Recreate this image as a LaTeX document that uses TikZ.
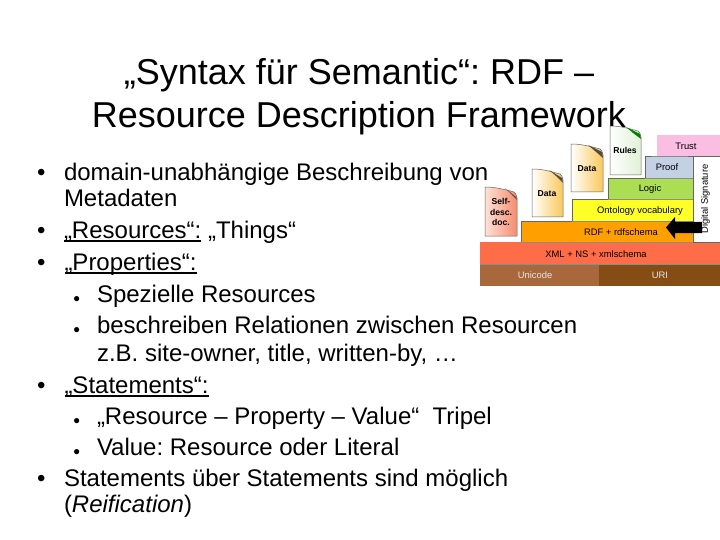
\documentclass[tikz,border=0pt]{standalone}
\usepackage{fontspec}
\setmainfont{Liberation Sans}
\usetikzlibrary{shapes.geometric}
\frenchspacing
\definecolor{cUni}{RGB}{168,104,60}
\definecolor{cUri}{RGB}{133,76,20}
\definecolor{cXml}{RGB}{255,108,72}
\definecolor{cRdf}{RGB}{255,160,0}
\definecolor{cOnt}{RGB}{255,255,40}
\definecolor{cLog}{RGB}{172,222,84}
\definecolor{cPrf}{RGB}{196,208,228}
\definecolor{cTru}{RGB}{250,190,226}
\definecolor{cSalmon}{RGB}{245,140,110}
\definecolor{cPink}{RGB}{255,225,215}
\definecolor{cDoc}{RGB}{250,200,90}
\definecolor{cRul}{RGB}{225,240,215}
\newcommand{\ulx}[1]{\leavevmode\setbox0\hbox{#1}\rlap{\copy0}\rlap{\raisebox{-4pt}{\rule{\wd0}{1.7pt}}}\hskip\wd0\relax}
\tikzset{
  txt/.style={anchor=base west,inner sep=0pt,outer sep=0pt,font=\fontsize{24}{24}\selectfont,text=black},
  ttl/.style={anchor=base,inner sep=0pt,outer sep=0pt,font=\fontsize{36}{36}\selectfont,text=black},
  bul/.style={anchor=base west,inner sep=0pt,outer sep=0pt,font=\fontsize{24}{24}\selectfont},
  sbul/.style={anchor=base west,inner sep=0pt,outer sep=0pt,font=\fontsize{12}{12}\selectfont},
  lay/.style={anchor=center,inner sep=0pt,font=\fontsize{9.4}{10}\selectfont,text=black},
  dlab/.style={anchor=center,inner sep=0pt,align=center,font=\bfseries\fontsize{8.6}{10.5}\selectfont,text=black}
}
\newcommand{\docshape}[6]{% x0 y0 x1 y1 left-colour right-colour
  \shade[left color=#5,right color=#6,draw=black!60,line width=0.5pt]
    (#1,#2) .. controls (#1+10,#2) and (#3-14,#2+2) .. (#3-3,#2+5)
    .. controls (#3-1,#2+7) .. (#3,#2+11) -- (#3,#4) -- (#1,#4) -- cycle;
}
\begin{document}
\begin{tikzpicture}[x=1pt,y=-1pt]
\useasboundingbox (0,0) rectangle (720,540);
\fill[white] (0,0) rectangle (720,540);
% title
\node[ttl] (t1) at (359,85) {„Syntax für Semantic“: RDF –};
\node[ttl] (t2) at (359,128) {Resource Description Framework};
% diagram layers
\fill[cUni] (480,264) rectangle (599,286);
\fill[cUri] (599,264) rectangle (720,286);
\fill[cXml] (480,242) rectangle (720,264);
\fill[cRdf] (521,221) rectangle (693,242);
\fill[cOnt] (572,199) rectangle (693,221);
\fill[cLog] (608,178) rectangle (693,199);
\fill[cPrf] (645,156) rectangle (693,178);
\fill[cTru] (657,135) rectangle (720,156);
\draw[black!60,line width=0.4pt] (521,242) |- (572,221) |- (608,199) |- (645,178) |- (657,156) -- (720,156);
\draw[black!60,line width=0.4pt] (693,156) -- (693,242) -- (720,242);
\draw[black!45,line width=0.4pt] (480,264) -- (720,264) (521,242) -- (693,242) (572,221) -- (693,221) (608,199) -- (693,199) (645,178) -- (693,178);
\node[lay,text=white!90!black] (uni) at (535,275.5) {Unicode};
\node[lay,text=white!90!black] (uri) at (660,275.5) {URI};
\node[lay] (xml) at (596,254) {XML + NS + xmlschema};
\node[lay] (rdf) at (621,232) {RDF + rdfschema};
\node[lay] (ont) at (640,211) {Ontology vocabulary};
\node[lay] (log) at (650,189) {Logic};
\node[lay] (prf) at (667,167) {Proof};
\node[lay] (tru) at (686,146) {Trust};
% documents
\docshape{485}{187}{517}{236}{cPink}{cSalmon}
\docshape{532}{169}{563}{217}{white}{cDoc}
\docshape{571}{144}{603}{192}{white}{cDoc}
\docshape{610}{126}{641}{175}{white}{cRul}
\fill[black!70] (505,188) -- (516,197) -- (517,200) -- (511,194) -- cycle;
\fill[black!70] (549,170) -- (562,178) -- (563,183) -- (556,176) -- cycle;
\fill[black!70] (588,145) -- (602,152) -- (603,158) -- (595,151) -- cycle;
\fill[green!50!black] (626,127) -- (640,134) -- (641,139) -- (633,133) -- cycle;
\node[dlab] (d1) at (501,212) {Self-\\desc.\\doc.};
\node[dlab] (d2) at (547,194) {Data};
\node[dlab] (d3) at (587,169) {Data};
\node[dlab] (d4) at (625,150) {Rules};
% arrow
\fill[black] (666,227.5) -- (675,217) -- (675,222) -- (702,222) -- (702,233) -- (675,233) -- (675,239) -- cycle;
\node[lay,rotate=90] (sig) at (705.5,199) {Digital Signature};
% text
\node[bul] (b1) at (37,181) {•};
\node[txt] (l1) at (64,181) {domain-unabhängige Beschreibung von};
\node[txt] (l2) at (64,207) {Metadaten};
\node[bul] (b2) at (37,238) {•};
\node[txt] (l3) at (64,238) {\ulx{„Resources“:} „Things“};
\node[bul] (b3) at (37,270) {•};
\node[txt] (l4) at (64,270) {\ulx{„Properties“:}};
\node[sbul] (s1) at (73,302) {●};
\node[txt] (l5) at (97,302) {Spezielle Resources};
\node[sbul] (s2) at (73,333) {●};
\node[txt] (l6) at (97,333) {beschreiben Relationen zwischen Resourcen};
\node[txt] (l7) at (97,361) {z.B. site-owner, title, written-by, …};
\node[bul] (b4) at (37,393) {•};
\node[txt] (l8) at (64,393) {\ulx{„Statements“:}};
\node[sbul] (s3) at (73,424) {●};
\node[txt] (l9) at (97,424) {„Resource – Property – Value“\ \ Tripel};
\node[sbul] (s4) at (73,455) {●};
\node[txt] (l10) at (97,455) {Value: Resource oder Literal};
\node[bul] (b5) at (37,486) {•};
\node[txt] (l11) at (64,486) {Statements über Statements sind möglich};
\node[txt] (l12) at (64,512) {(\textit{Reification})};
\end{tikzpicture}
\end{document}
